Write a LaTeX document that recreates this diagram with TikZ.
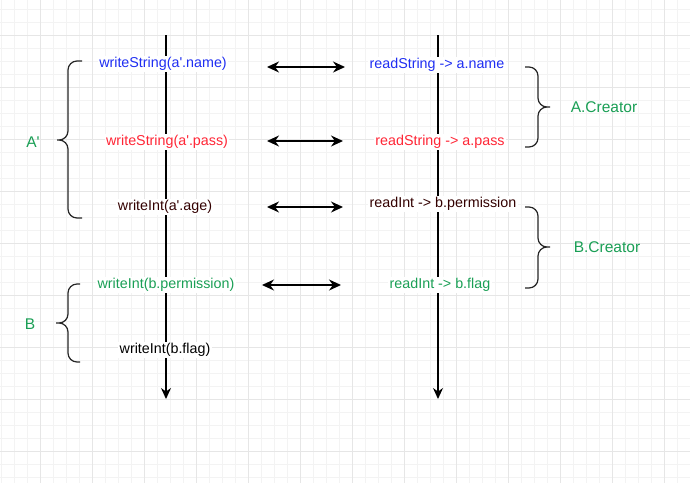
\documentclass[tikz,border=0pt]{standalone}
\usepackage{fontspec}
\setmainfont{Liberation Sans}
\usetikzlibrary{arrows.meta}
\definecolor{GridMinor}{HTML}{F3F3F3}
\definecolor{GridMajor}{HTML}{E6E6E6}
\definecolor{Blue}{HTML}{1F2EF2}
\definecolor{Red}{HTML}{FF2636}
\definecolor{Brown}{HTML}{330000}
\definecolor{Green}{HTML}{1A9F55}
\tikzset{
  gridminor/.style={draw=GridMinor,line width=0.7pt},
  gridmajor/.style={draw=GridMajor,line width=0.9pt},
  flow/.style={-{Stealth[length=11pt,width=10pt]},line width=1.3pt,draw=black},
  swap/.style={{Stealth[length=12pt,width=11pt]}-{Stealth[length=12pt,width=11pt]},line width=1.3pt,draw=black},
  callbox/.style={fill=white,inner sep=1.5pt,font=\fontsize{14.3}{17}\selectfont},
  bracket/.style={rounded corners=9pt,line width=1.2pt,draw=black!85},
  grouplabel/.style={text=Green,font=\fontsize{15.5}{18}\selectfont}
}
\begin{document}
\begin{tikzpicture}[x=1pt,y=-1pt]
  \useasboundingbox (0,0) rectangle (690,483);
  % grid
  \fill[white] (0,0) rectangle (690,483);
  \foreach \gx in {1,14,...,690} \draw[gridminor] (\gx,0) -- (\gx,483);
  \foreach \gy in {9,22,...,483} \draw[gridminor] (0,\gy) -- (690,\gy);
  \foreach \gx in {40,92,...,690} \draw[gridmajor] (\gx,0) -- (\gx,483);
  \foreach \gy in {35,87,...,483} \draw[gridmajor] (0,\gy) -- (690,\gy);
  % two timelines
  \coordinate (wtop) at (166,35); \coordinate (wend) at (166,399);
  \coordinate (rtop) at (438,35); \coordinate (rend) at (438,399);
  \draw[flow] (wtop) -- (wend);
  \draw[flow] (rtop) -- (rend);
  % writer side
  \node[callbox,text=Blue] (wname) at (163,64) {writeString(a\textquotesingle.name)};
  \node[callbox,text=Red] (wpass) at (167,142) {writeString(a\textquotesingle.pass)};
  \node[callbox,text=Brown] (wage) at (165,207) {writeInt(a\textquotesingle.age)};
  \node[callbox,text=Green] (wperm) at (166,285) {writeInt(b.permission)};
  \node[callbox,text=black] (wflag) at (165,350) {writeInt(b.flag)};
  % reader side
  \node[callbox,text=Blue] (rname) at (437,65) {readString -> a.name};
  \node[callbox,text=Red] (rpass) at (440,142) {readString -> a.pass};
  \node[callbox,text=Brown] (rperm) at (443,204) {readInt -> b.permission};
  \node[callbox,text=Green] (rflag) at (440,285) {readInt -> b.flag};
  % exchanges
  \coordinate (s1a) at (267,67);  \coordinate (s1b) at (345,67);
  \coordinate (s2a) at (267,141); \coordinate (s2b) at (343,141);
  \coordinate (s3a) at (267,207); \coordinate (s3b) at (343,207);
  \coordinate (s4a) at (262,285); \coordinate (s4b) at (341,285);
  \draw[swap] (s1a) -- (s1b);
  \draw[swap] (s2a) -- (s2b);
  \draw[swap] (s3a) -- (s3b);
  \draw[swap] (s4a) -- (s4b);
  % groups
  \coordinate (gA1) at (82,61);   \coordinate (gAt) at (57,140);  \coordinate (gA2) at (82,218);
  \coordinate (gB1) at (80,284);  \coordinate (gBt) at (56,323);  \coordinate (gB2) at (80,362);
  \coordinate (cA1) at (525,67);  \coordinate (cAt) at (550,107); \coordinate (cA2) at (525,147);
  \coordinate (cB1) at (525,207); \coordinate (cBt) at (550,247); \coordinate (cB2) at (525,288);
  \draw[bracket] (gA1) -- ++(-14,0) |- (gAt) (gAt) -- ++(11,0) |- (gA2);
  \draw[bracket] (gB1) -- ++(-12,0) |- (gBt) (gBt) -- ++(12,0) |- (gB2);
  \draw[bracket] (cA1) -- ++(13,0) |- (cAt) (cAt) -- ++(-12,0) |- (cA2);
  \draw[bracket] (cB1) -- ++(13,0) |- (cBt) (cBt) -- ++(-12,0) |- (cB2);
  \node[grouplabel] (aprime) at (33,142) {A\textquotesingle};
  \node[grouplabel] (bgroup) at (30,324) {B};
  \node[grouplabel] (acreator) at (604,107) {A.Creator};
  \node[grouplabel] (bcreator) at (607,247) {B.Creator};
\end{tikzpicture}
\end{document}
